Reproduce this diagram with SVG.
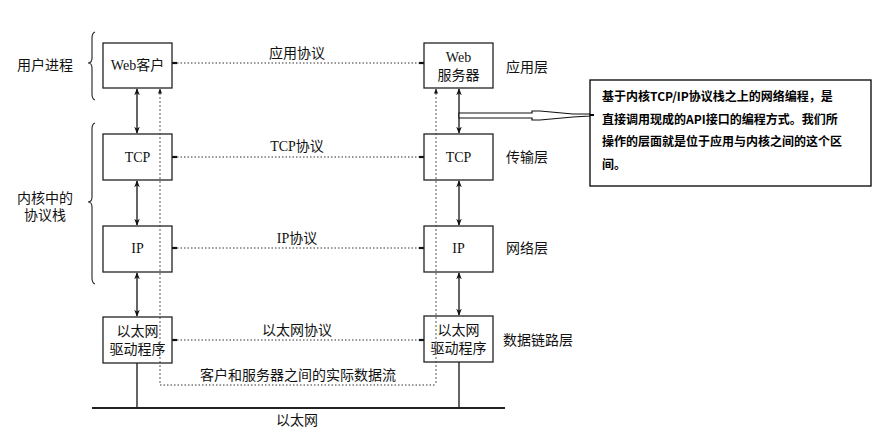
<svg xmlns="http://www.w3.org/2000/svg" width="881" height="435" viewBox="0 0 881 435">
<defs>
<marker id="ah" viewBox="0 0 10 10" refX="9" refY="5" markerWidth="7" markerHeight="7" orient="auto-start-reverse" markerUnits="userSpaceOnUse">
<path d="M0,1 L10,5 L0,9 L3,5 Z" fill="#111"/>
</marker>
<marker id="ahs" viewBox="0 0 10 10" refX="9" refY="5" markerWidth="5" markerHeight="6" orient="auto-start-reverse" markerUnits="userSpaceOnUse">
<path d="M0,1 L10,5 L0,9 Z" fill="#111"/>
</marker>
</defs>
<style>
.box{fill:#fff;stroke:#222;stroke-width:1.3}
.t{font-family:"Liberation Serif","Noto Sans CJK SC",serif;font-size:14px;fill:#111;text-anchor:middle}
.tl{font-family:"Liberation Serif","Noto Sans CJK SC",serif;font-size:14px;fill:#111}
.note{font-family:"Noto Sans CJK SC","Liberation Sans",sans-serif;font-size:12px;font-weight:bold;fill:#000}
.arr{stroke:#111;stroke-width:1.3;fill:none;marker-start:url(#ah);marker-end:url(#ah)}
.dot{stroke:#333;stroke-width:1;stroke-dasharray:1.5 2;fill:none}
.tick{stroke:#111;stroke-width:2.2}
.dash{stroke:#444;stroke-width:0.9;stroke-dasharray:2 2;fill:none}
.brace{stroke:#333;stroke-width:1.2;fill:none}
</style>
<rect width="881" height="435" fill="#fff"/>

<g id="connectors">
<!-- vertical arrows left -->
<line class="arr" x1="137" y1="89" x2="137" y2="133"/>
<line class="arr" x1="137" y1="181" x2="137" y2="225"/>
<line class="arr" x1="137" y1="273" x2="137" y2="316"/>
<!-- vertical arrows right -->
<line class="arr" x1="459" y1="89" x2="459" y2="133"/>
<line class="arr" x1="459" y1="181" x2="459" y2="225"/>
<line class="arr" x1="459" y1="273" x2="459" y2="315"/>
<!-- driver to ethernet -->
<line x1="137" y1="363" x2="137" y2="408" stroke="#111" stroke-width="1.3"/>
<line x1="459" y1="362" x2="459" y2="408" stroke="#111" stroke-width="1.3"/>
<!-- ethernet bus -->
<line x1="92" y1="408" x2="505" y2="408" stroke="#222" stroke-width="2"/>
<!-- peer protocols -->
<line class="dot" x1="177" y1="63" x2="419" y2="63"/>
<line class="tick" x1="172" y1="63" x2="177" y2="63"/>
<line class="tick" x1="419" y1="63" x2="424" y2="63"/>
<line class="dot" x1="177" y1="157" x2="419" y2="157"/>
<line class="tick" x1="172" y1="157" x2="177" y2="157"/>
<line class="tick" x1="419" y1="157" x2="424" y2="157"/>
<line class="dot" x1="177" y1="248" x2="419" y2="248"/>
<line class="tick" x1="172" y1="248" x2="177" y2="248"/>
<line class="tick" x1="419" y1="248" x2="424" y2="248"/>
<line class="dot" x1="177" y1="340" x2="419" y2="340"/>
<line class="tick" x1="172" y1="340" x2="177" y2="340"/>
<line class="tick" x1="419" y1="340" x2="424" y2="340"/>
<!-- actual data flow -->
<path class="dot" d="M160,385 L436,385"/>
<!-- callout pointer -->
<polygon points="459,113 532,113 532,111 540,111 573,114 590,114 590,116 573,117 540,120 532,120 532,118 459,118" fill="#fff" stroke="#111" stroke-width="1.2"/>
</g>

<g id="braces">
<path class="brace" d="M95,32 Q92,33 92,38 L92,58 Q92,63 88,63 Q92,63 92,68 L92,94 Q92,99 95,100"/>
<path class="brace" d="M95,123 Q92,124 92,129 L92,197 Q92,202 88,202 Q92,202 92,207 L92,278 Q92,283 95,284"/>
</g>

<g id="labels">
<text class="t" x="45" y="70">用户进程</text>
<text class="t" x="45" y="203">内核中的</text>
<text class="t" x="45" y="220">协议栈</text>
<text class="tl" x="506" y="72">应用层</text>
<text class="tl" x="506" y="162">传输层</text>
<text class="tl" x="506" y="253">网络层</text>
<text class="tl" x="503" y="345">数据链路层</text>
<text class="t" x="297" y="58">应用协议</text>
<text class="t" x="297" y="151">TCP协议</text>
<text class="t" x="297" y="243">IP协议</text>
<text class="t" x="297" y="335">以太网协议</text>
<text class="t" x="298" y="380">客户和服务器之间的实际数据流</text>
<text class="t" x="297" y="425">以太网</text>
</g>

<g id="web-client">
<rect class="box" x="103" y="43" width="69" height="45"/>
<text class="t" x="137.5" y="70">Web客户</text>
</g>
<g id="tcp-left">
<rect class="box" x="103" y="134" width="69" height="46"/>
<text class="t" x="137.5" y="162">TCP</text>
</g>
<g id="ip-left">
<rect class="box" x="103" y="226" width="69" height="46"/>
<text class="t" x="137.5" y="253">IP</text>
</g>
<g id="eth-left">
<rect class="box" x="103" y="317" width="69" height="46"/>
<text class="t" x="137.5" y="336">以太网</text>
<text class="t" x="137.5" y="354">驱动程序</text>
</g>

<g id="web-server">
<rect class="box" x="424" y="43" width="69" height="45"/>
<text class="t" x="458.5" y="62">Web</text>
<text class="t" x="458.5" y="80">服务器</text>
</g>
<g id="tcp-right">
<rect class="box" x="424" y="134" width="69" height="46"/>
<text class="t" x="458.5" y="162">TCP</text>
</g>
<g id="ip-right">
<rect class="box" x="424" y="226" width="69" height="46"/>
<text class="t" x="458.5" y="253">IP</text>
</g>
<g id="eth-right">
<rect class="box" x="424" y="316" width="69" height="46"/>
<text class="t" x="458.5" y="335">以太网</text>
<text class="t" x="458.5" y="353">驱动程序</text>
</g>

<g id="data-flow">
<line class="dash" x1="160" y1="89" x2="160" y2="385" style="marker-start:url(#ahs)"/>
<line class="dash" x1="436" y1="89" x2="436" y2="385" style="marker-start:url(#ahs)"/>
</g>

<g id="note">
<rect x="590" y="80" width="281" height="106" fill="#fff" stroke="#000" stroke-width="1.3"/>
<line x1="590" y1="115" x2="594" y2="115" stroke="#000" stroke-width="2"/>
<text class="note" x="602" y="101">基于内核TCP/IP协议栈之上的网络编程，是</text>
<text class="note" x="602" y="124">直接调用现成的API接口的编程方式。我们所</text>
<text class="note" x="602" y="146">操作的层面就是位于应用与内核之间的这个区</text>
<text class="note" x="602" y="169">间。</text>
</g>
</svg>
